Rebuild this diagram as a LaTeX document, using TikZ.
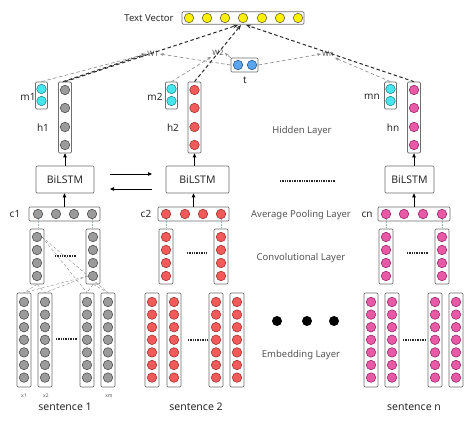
\documentclass[tikz,border=0pt]{standalone}
\usepackage{fontspec}
\setmainfont{Noto Sans}
\usetikzlibrary{arrows.meta}
\definecolor{frameC}{HTML}{6E6E6E}
\definecolor{grayF}{HTML}{9B9B9B}
\definecolor{grayB}{HTML}{505050}
\definecolor{redF}{HTML}{F35B5B}
\definecolor{redB}{HTML}{A33333}
\definecolor{pinkF}{HTML}{E95AA6}
\definecolor{pinkB}{HTML}{9A2A6A}
\definecolor{cyanF}{HTML}{47E6EF}
\definecolor{cyanB}{HTML}{2A8A90}
\definecolor{yelF}{HTML}{FFF100}
\definecolor{yelB}{HTML}{6A6A30}
\definecolor{bluF}{HTML}{5AA5EF}
\definecolor{bluB}{HTML}{2A5A90}
\definecolor{labelC}{HTML}{555555}
\definecolor{lightC}{HTML}{8E8E8E}
\definecolor{darkC}{HTML}{2A2A2A}
\definecolor{linkC}{HTML}{8FB5B5}
\tikzset{
  frame/.style={draw=frameC, fill=white, rounded corners=1.2pt, line width=0.7pt, inner sep=0pt},
  cellbase/.style={circle, line width=0.6pt, minimum size=9.5pt, inner sep=0pt},
  cg/.style={cellbase, draw=grayB, fill=grayF},
  cr/.style={cellbase, draw=redB, fill=redF},
  cp/.style={cellbase, draw=pinkB, fill=pinkF},
  cc/.style={cellbase, draw=cyanB, fill=cyanF},
  cy/.style={cellbase, draw=yelB, fill=yelF},
  cb/.style={cellbase, draw=bluB, fill=bluF},
  lbl/.style={font=\fontsize{9.5}{10}\selectfont, text=labelC},
  tag/.style={font=\bfseries\fontsize{10}{11}\selectfont, text=darkC},
  wlab/.style={font=\fontsize{7.5}{8}\selectfont, text=labelC, inner sep=1pt},
  xlab/.style={font=\fontsize{5}{6}\selectfont, text=labelC},
  sent/.style={font=\fontsize{10.5}{11}\selectfont, text=darkC},
  lstm/.style={frame, font=\fontsize{10.5}{11}\selectfont, text=darkC},
  att/.style={draw=lightC, line width=0.65pt, dash pattern=on 3.5pt off 2.5pt, -{Stealth[length=4pt,width=3pt]}},
  attd/.style={draw=darkC, line width=1pt, dash pattern=on 3.5pt off 2.5pt, -{Stealth[length=5pt,width=4pt]}},
  link/.style={draw=linkC, densely dotted, line width=0.6pt},
  fan/.style={draw=lightC, densely dashed, line width=0.4pt},
  upar/.style={draw=black, line width=0.7pt, -{Triangle[length=4pt,width=3.5pt]}},
  ellip/.style={draw=darkC, line width=1.6pt, dash pattern=on 0.8pt off 0.9pt},
}
% name, x, ytop, ybottom, width, cell style, list of cell y
\newcommand{\vcolumn}[7]{%
  \node[frame, minimum width=#5pt, minimum height={#4-#3}] (#1) at (#2,{(#3+#4)/2}) {};
  \foreach \yy [count=\k] in {#7} {\node[#6] (#1-\k) at (#2,\yy) {};}
}
\newcommand{\hrow}[7]{% name, ycenter, xleft, xright, height, style, list of x
  \node[frame, minimum height=#5pt, minimum width={#4-#3}] (#1) at ({(#3+#4)/2},#2) {};
  \foreach \xx [count=\k] in {#7} {\node[#6] (#1-\k) at (\xx,#2) {};}
}
\newcommand{\ecol}[3]{% name, x, style
  \vcolumn{#1}{#2}{293}{387}{14}{#3}{302,314.6,327.2,339.8,352.4,365,377.6}
}
\begin{document}
\begin{tikzpicture}[x=1pt,y=-1pt]
\useasboundingbox (0,0) rectangle (474,422);
\fill[white] (0,0) rectangle (474,422);

% ---------- Text vector and t ----------
\hrow{tv}{18}{182}{304}{12.5}{cy}{189,207,225,243,262,280,298}
\node[font=\fontsize{9.5}{10}\selectfont, text=darkC] (tvlab) at (149,18) {Text Vector};
\hrow{tt}{65}{231}{258}{14}{cb}{238,252}
\node[tag] (tlab) at (245,80) {t};

\node[wlab] (w1) at (153,54) {W1};
\node[wlab] (w2) at (218,53) {W2};
\node[wlab] (wn) at (328,54) {Wn};

% ---------- Hidden layer ----------
\vcolumn{m1}{41.5}{82}{109}{12}{cc}{89,101}
\vcolumn{h1}{65}{82}{153}{13}{cg}{90,108,127,145}
\vcolumn{m2}{171.5}{82}{109}{12}{cc}{89,101}
\vcolumn{h2}{194.5}{82}{153}{13}{cr}{90,108,127,145}
\vcolumn{mn}{390.5}{82}{109}{12}{cc}{89,101}
\vcolumn{hn}{414}{82}{153}{13}{cp}{90,108,127,145}
\node[tag] (m1l) at (28,97) {m1};
\node[tag] (m2l) at (155,97) {m2};
\node[tag] (mnl) at (372,97) {mn};
\node[tag] (h1l) at (43,128) {h1};
\node[tag] (h2l) at (173,128) {h2};
\node[tag] (hnl) at (393,128) {hn};
\node[lbl] (hidl) at (302,131) {Hidden Layer};

% attention connectors
\coordinate (in1) at (238,25);
\coordinate (in2) at (241,25);
\coordinate (in3) at (246,25);
\draw[attd] (h1.north) -- (in1);
\draw[attd] ([xshift=-2pt]h1.north) -- (w1.west);
\draw[att] (m1.north) -- (w1.west);
\draw[att] (tt.west) -- (w1.east);
\draw[attd] (h2.north) -- (in2);
\draw[att] (m2.north) -- (w2.south west);
\draw[att] (tt.north west) -- (w2.east);
\draw[attd] (hn.north) -- (in3);
\draw[att] (mn.north) -- (wn.south east);
\draw[att] (tt.east) -- (wn.west);

% ---------- BiLSTM ----------
\node[lstm, minimum width=58pt, minimum height=27pt] (b1) at (65,179.5) {BiLSTM};
\node[lstm, minimum width=63pt, minimum height=27pt] (b2) at (197.5,179.5) {BiLSTM};
\node[lstm, minimum width=49pt, minimum height=27pt] (bn) at (409.5,179.5) {BiLSTM};
\draw[upar] (b1.north -| h1.south) -- (h1.south);
\draw[upar] (b2.north -| h2.south) -- (h2.south);
\draw[upar] (bn.north -| hn.south) -- (hn.south);
\coordinate (ra) at (110,174);
\coordinate (rb) at (152,174);
\coordinate (la) at (152,189);
\coordinate (lb) at (110,189);
\draw[upar] (ra) -- (rb);
\draw[upar] (la) -- (lb);
\coordinate (ea) at (280,181);
\coordinate (eb) at (335,181);
\draw[ellip] (ea) -- (eb);

% ---------- Average pooling ----------
\hrow{c1}{214}{29}{100}{14}{cg}{38,56,74,92}
\hrow{c2}{214}{158}{229}{14}{cr}{166,185,203,221}
\hrow{cn}{214}{378}{450}{14}{cp}{386,404,423,442}
\node[tag] (c1l) at (15,214) {c1};
\node[tag] (c2l) at (146,214) {c2};
\node[tag] (cnl) at (367,215) {cn};
\node[lbl] (apl) at (301,215) {Average Pooling Layer};
\draw[upar] (c1.north) -- (c1.north |- b1.south);
\draw[upar] (c2.north) -- (c2.north |- b2.south);
\draw[upar] (cn.north) -- (cn.north |- bn.south);

% ---------- Convolutional ----------
\vcolumn{k1a}{37}{229}{284}{14}{cg}{237,250,263,276}
\vcolumn{k1b}{93}{229}{284}{14}{cg}{237,250,263,276}
\vcolumn{k2a}{166}{229}{284}{14}{cr}{237,250,263,276}
\vcolumn{k2b}{221}{229}{284}{14}{cr}{237,250,263,276}
\vcolumn{kna}{386}{229}{284}{14}{cp}{237,250,263,276}
\vcolumn{knb}{442}{229}{284}{14}{cp}{237,250,263,276}
\node[lbl] (cvl) at (301,258) {Convolutional Layer};
\draw[link] (c1-1.south) -- (c1-1.south |- k1a.north);
\draw[link] (c1-4.south) -- (c1-4.south |- k1b.north);
\draw[link] (c2-1.south) -- (c2-1.south |- k2a.north);
\draw[link] (c2-4.south) -- (c2-4.south |- k2b.north);
\draw[link] (cn-1.south) -- (cn-1.south |- kna.north);
\draw[link] (cn-4.south) -- (cn-4.south |- knb.north);
\coordinate (d1a) at (55,256); \coordinate (d1b) at (77,256);
\coordinate (d2a) at (187,253); \coordinate (d2b) at (207,253);
\coordinate (dna) at (407,253); \coordinate (dnb) at (428,253);
\draw[ellip, line width=1.3pt] (d1a) -- (d1b);
\draw[ellip, line width=1.3pt] (d2a) -- (d2b);
\draw[ellip, line width=1.3pt] (dna) -- (dnb);

% ---------- Embedding ----------
\ecol{e1a}{24}{cg}
\ecol{e1b}{45}{cg}
\ecol{e1c}{87}{cg}
\ecol{e1d}{108}{cg}
\ecol{e2a}{152}{cr}
\ecol{e2b}{174}{cr}
\ecol{e2c}{216}{cr}
\ecol{e2d}{237}{cr}
\ecol{ena}{371}{cp}
\ecol{enb}{392}{cp}
\ecol{enc}{435}{cp}
\ecol{end}{456}{cp}
\coordinate (f1a) at (56,339); \coordinate (f1b) at (78,339);
\coordinate (f2a) at (188,340); \coordinate (f2b) at (208,340);
\coordinate (fna) at (403,340); \coordinate (fnb) at (426,340);
\draw[ellip, line width=1.3pt] (f1a) -- (f1b);
\draw[ellip, line width=1.3pt] (f2a) -- (f2b);
\draw[ellip, line width=1.3pt] (fna) -- (fnb);
\node[circle, fill=black, minimum size=10pt, inner sep=0pt] (bd1) at (277,321) {};
\node[circle, fill=black, minimum size=10pt, inner sep=0pt] (bd2) at (307,321) {};
\node[circle, fill=black, minimum size=10pt, inner sep=0pt] (bd3) at (334,321) {};
\node[lbl] (embl) at (301,355) {Embedding Layer};

% convolution window lines (sentence 1)
\draw[fan] (k1a-1.east) -- (e1c.north);
\draw[fan] (k1a-1.east) -- (e1d.north);
\draw[fan] (k1b-4.west) -- (e1a.north);
\draw[fan] (k1b-4.west) -- (e1b.north);
\draw[fan] (k1a.south) -- (e1a.north);
\draw[fan] (k1a.south) -- (e1b.north);
\draw[fan] (k1b.south) -- (e1c.north);
\draw[fan] (k1b.south) -- (e1d.north);

\node[xlab] (x1l) at (24,396) {x1};
\node[xlab] (x2l) at (46,396) {x2};
\node[xlab] (xml) at (109,396) {xm};
\node[sent] (s1l) at (65,407) {sentence 1};
\node[sent] (s2l) at (196,407) {sentence 2};
\node[sent] (snl) at (414,407) {sentence n};
\end{tikzpicture}
\end{document}
